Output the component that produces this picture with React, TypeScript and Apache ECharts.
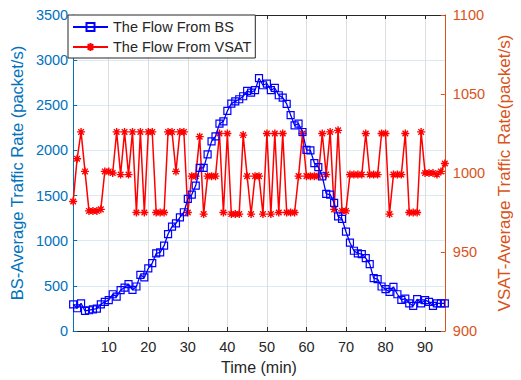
import React, { useEffect, useRef } from 'react';
import * as echarts from 'echarts';

const minutes = Array.from({ length: 95 }, (_, i) => i + 1);

const bsRate = [
  296, 252, 307, 222, 230, 239, 248, 296, 322, 341,
  407, 381, 452, 481, 519, 456, 493, 622, 593, 693,
  752, 859, 870, 945, 1074, 1156, 1193, 1259, 1315, 1463,
  1511, 1611, 1807, 1807, 1956, 2100, 2156, 2296, 2322, 2437,
  2519, 2544, 2567, 2600, 2659, 2641, 2667, 2800, 2722, 2741,
  2667, 2692, 2611, 2585, 2515, 2392, 2278, 2296, 2204, 2007,
  2000, 1860, 1815, 1713, 1519, 1511, 1419, 1270, 1241, 1100,
  978, 889, 859, 852, 807, 741, 585, 574, 493, 463,
  433, 489, 407, 344, 359, 307, 278, 352, 307, 341,
  322, 278, 307, 307, 307,
];

const vsatRate = [
  982, 1009, 1026, 1001, 976, 976, 976, 977, 1001, 1001,
  1000, 1026, 999, 1026, 999, 1026, 975, 1026, 975, 1026,
  1026, 975, 975, 975, 1026, 1026, 1001, 1026, 1026, 975,
  998, 998, 1023, 974, 998, 998, 998, 1025, 975, 1025,
  974, 974, 974, 1024, 998, 974, 998, 998, 974, 1025,
  974, 1025, 975, 1025, 975, 975, 975, 998, 1025, 998,
  998, 998, 998, 1025, 999, 1026, 977, 1027, 976, 976,
  999, 999, 999, 999, 1025, 999, 999, 999, 1025, 1025,
  974, 999, 999, 999, 1025, 975, 975, 975, 1026, 1000,
  1000, 1000, 999, 1001, 1006,
];

const xTicks = [10, 20, 30, 40, 50, 60, 70, 80, 90];
const seriesNames = ['The Flow From BS', 'The Flow From VSAT'];
const axisNames = ['BS-Average Traffic Rate (packet/s)', 'VSAT-Average Traffic Rate(packet/s)', 'Time (min)'];

export default function App() {
  const ref = useRef<HTMLDivElement>(null);
  useEffect(() => {
    const chart = echarts.init(ref.current!, null, { renderer: 'svg' });
    const font = '"Liberation Sans", Arial, Helvetica, sans-serif';
    const blueAx = '#0072BD';
    const orangeAx = '#D95319';
    const dark = '#262626';
    const plain = (v: number) => String(v);
    chart.setOption({
      animation: false,
      backgroundColor: '#ffffff',
      textStyle: { fontFamily: font },
      grid: { left: 68, right: 64, top: 15, bottom: 49, containLabel: false },
      legend: {
        orient: 'vertical',
        left: 68,
        top: 15,
        data: seriesNames,
        backgroundColor: '#ffffff',
        borderColor: dark,
        borderWidth: 1,
        borderRadius: 0,
        padding: [4, 4, 3, 4],
        itemWidth: 35,
        itemHeight: 10,
        itemGap: 4,
        textStyle: { fontSize: 14.5, color: dark, lineHeight: 16, fontFamily: font },
      },
      xAxis: [
        {
          type: 'value', min: 1, max: 95, position: 'bottom',
          axisLine: { show: true, onZero: false, lineStyle: { color: dark, width: 1 } },
          axisTick: { show: true, inside: true, length: 4, customValues: xTicks, lineStyle: { color: dark } },
          axisLabel: { customValues: xTicks, color: dark, fontSize: 14.5, margin: 8, fontFamily: font, formatter: plain },
          splitLine: { show: true, lineStyle: { color: '#dedede', width: 1 } },
          name: axisNames[2], nameLocation: 'middle', nameGap: 28,
          nameTextStyle: { color: dark, fontSize: 16, fontFamily: font },
        },
        {
          type: 'value', min: 1, max: 95, position: 'top',
          axisLine: { show: true, onZero: false, lineStyle: { color: dark, width: 1 } },
          axisTick: { show: true, inside: true, length: 4, customValues: xTicks, lineStyle: { color: dark } },
          axisLabel: { show: false },
          splitLine: { show: false },
        },
      ],
      yAxis: [
        {
          type: 'value', min: 0, max: 3500, interval: 500, position: 'left',
          axisLine: { show: true, onZero: false, lineStyle: { color: blueAx, width: 1 } },
          axisTick: { show: true, inside: true, length: 4, lineStyle: { color: blueAx } },
          axisLabel: { color: blueAx, fontSize: 14.5, margin: 5, fontFamily: font, formatter: plain },
          splitLine: { show: true, lineStyle: { color: '#d9eaf5', width: 1 } },
          name: axisNames[0], nameLocation: 'middle', nameGap: 41,
          nameTextStyle: { color: blueAx, fontSize: 16.5, fontFamily: font },
        },
        {
          type: 'value', min: 900, max: 1100, interval: 50, position: 'right',
          axisLine: { show: true, onZero: false, lineStyle: { color: orangeAx, width: 1 } },
          axisTick: { show: true, inside: true, length: 4, lineStyle: { color: orangeAx } },
          axisLabel: { color: orangeAx, fontSize: 14.5, margin: 8, fontFamily: font, formatter: plain },
          splitLine: { show: false },
          name: axisNames[1], nameLocation: 'middle', nameGap: 49,
          nameTextStyle: { color: orangeAx, fontSize: 17, fontFamily: font },
        },
      ],
      series: [
        {
          name: seriesNames[1], type: 'line', xAxisIndex: 0, yAxisIndex: 1,
          data: minutes.map((m, i) => [m, vsatRate[i]]),
          symbol: 'path://M0 -5L0 5M-5 0L5 0M-3.5 -3.5L3.5 3.5M-3.5 3.5L3.5 -3.5',
          symbolSize: 8,
          lineStyle: { color: '#ff0000', width: 1.5 },
          itemStyle: { color: '#ff0000', borderColor: '#ff0000', borderWidth: 1.4 },
          z: 2,
        },
        {
          name: seriesNames[0], type: 'line', xAxisIndex: 0, yAxisIndex: 0,
          data: minutes.map((m, i) => [m, bsRate[i]]),
          symbol: 'rect',
          symbolSize: 7,
          lineStyle: { color: '#0000ff', width: 1.3 },
          itemStyle: { color: 'rgba(255,255,255,0)', borderColor: '#0000ff', borderWidth: 1.2 },
          z: 3,
        },
      ],
    });
    return () => chart.dispose();
  }, []);
  return <div ref={ref} style={{ position: 'fixed', left: 0, top: 0, width: 521, height: 380 }} />;
}
